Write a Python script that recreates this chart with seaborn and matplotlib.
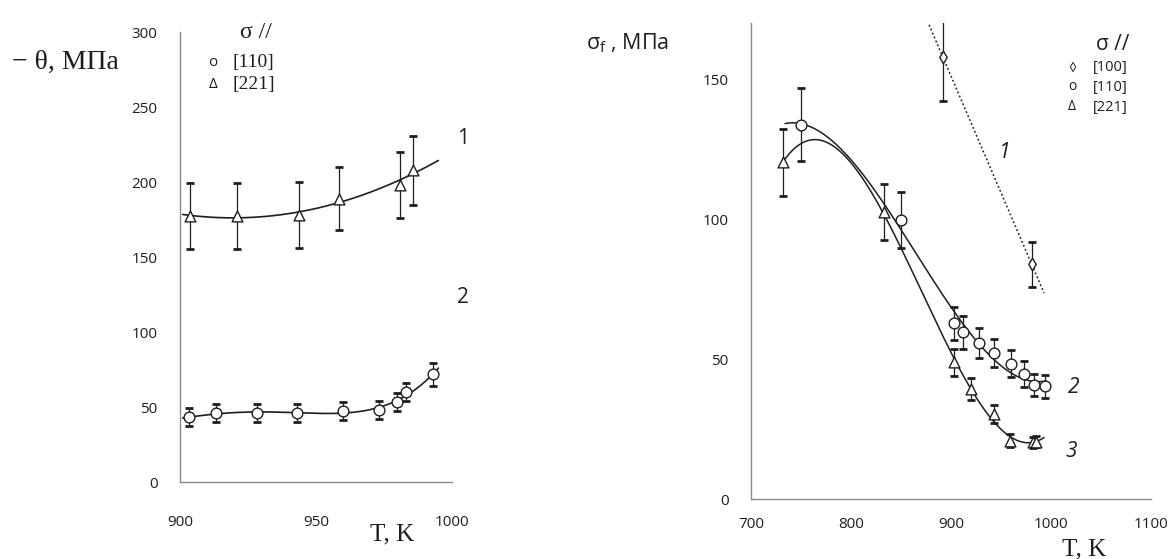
import numpy as np
import pandas as pd
import matplotlib
matplotlib.use("Agg")
import matplotlib.pyplot as plt
from matplotlib.ticker import MultipleLocator
import seaborn as sns

# ---- left panel: -theta vs T ----
t_110_left = [903.4, 913.2, 928.2, 943.1, 959.9, 973.0, 979.9, 983.2, 993.1]
theta_110 = [43.1, 45.8, 46.2, 46.2, 47.1, 48.0, 53.3, 60.0, 71.8]
theta_110_err = [6, 6, 6, 6, 6, 6, 6, 6, 7.5]

t_221_left = [903.8, 920.8, 943.7, 958.6, 980.8, 985.8]
theta_221 = [177.3, 177.3, 178.0, 188.7, 198.0, 208.0]
theta_221_err = [22, 22, 22, 21, 22, 23]

# ---- right panel: sigma_f vs T ----
t_100 = [892.0, 980.6]
sf_100 = [157.7, 83.9]
sf_100_err = [15.5, 8]

t_110_right = [750.0, 849.5, 902.6, 912.2, 928.0, 943.0, 960.4, 972.5, 983.0, 994.3]
sf_110 = [133.7, 99.6, 62.7, 59.5, 55.7, 52.1, 48.4, 44.6, 40.7, 40.2]
sf_110_err = [13, 10, 6, 6, 5.5, 5, 4.8, 4.6, 4, 4]

t_221_right = [731.7, 832.5, 902.6, 920.0, 943.0, 958.7, 981.6, 985.0]
sf_221 = [120.2, 102.4, 48.8, 39.3, 30.4, 20.8, 20.2, 20.5]
sf_221_err = [12, 10, 4.7, 3.9, 3.1, 2.3, 2, 2]

INK = "#1e1e1e"
AXIS = "#8a8a8a"

sns.set_theme(style="white")
plt.rcParams["font.family"] = ["Open Sans", "DejaVu Sans"]
plt.rcParams["mathtext.fontset"] = "custom"
plt.rcParams["mathtext.rm"] = "Open Sans"

fig = plt.figure(figsize=(11.7, 5.59), dpi=100)
fig.patch.set_facecolor("white")


def fit_curve(x, y, deg, lo, hi, n=200):
    x = np.asarray(x, float)
    y = np.asarray(y, float)
    xm = x.mean()
    coef = np.polyfit(x - xm, y, deg)
    xs = np.linspace(lo, hi, n)
    return pd.DataFrame({"T": xs, "v": np.polyval(coef, xs - xm)})


def draw_points(ax, x, y, err, marker, size):
    ax.errorbar(x, y, yerr=err, fmt="none", ecolor=INK, elinewidth=0.9,
                capsize=3.2, capthick=2.0, zorder=2)
    sns.scatterplot(x=x, y=y, ax=ax, marker=marker, s=size, color="white",
                    edgecolor=INK, linewidth=1.0, zorder=3, legend=False)


def style_axes(ax):
    sns.despine(ax=ax)
    for side in ("left", "bottom"):
        ax.spines[side].set_color(AXIS)
        ax.spines[side].set_linewidth(1.0)
    ax.tick_params(which="both", direction="in", color=AXIS, labelcolor=INK,
                   labelsize=11)
    ax.tick_params(which="major", length=4, width=0.8)
    ax.tick_params(which="minor", length=3, width=0.8)
    ax.set_facecolor("white")
    ax.set_xlabel("")
    ax.set_ylabel("")


# ---------------- left axes ----------------
axL = fig.add_axes([0.1538, 0.1377, 0.2325, 0.805])
curve = fit_curve(t_221_left, theta_221, 2, 901, 995)
sns.lineplot(data=curve, x="T", y="v", ax=axL, color=INK, lw=1.2, zorder=1)
curve = fit_curve(t_110_left, theta_110, 4, 901, 995)
sns.lineplot(data=curve, x="T", y="v", ax=axL, color=INK, lw=1.2, zorder=1)
draw_points(axL, t_221_left, theta_221, theta_221_err, "^", 60)
draw_points(axL, t_110_left, theta_110, theta_110_err, "o", 60)

axL.set_xlim(900, 1000)
axL.set_ylim(0, 300)
axL.xaxis.set_major_locator(MultipleLocator(50))
axL.xaxis.set_minor_locator(MultipleLocator(10))
axL.yaxis.set_major_locator(MultipleLocator(50))
axL.yaxis.set_minor_locator(MultipleLocator(10))
style_axes(axL)
axL.tick_params(axis="y", pad=16)
axL.tick_params(axis="x", pad=24)

axL.text(1002, 229, "1", fontsize=15, color=INK, ha="left", va="center",
         clip_on=False)
axL.text(1002, 123, "2", fontsize=15, color=INK, ha="left", va="center",
         clip_on=False)

serif = ["Liberation Serif", "DejaVu Serif"]
fig.text(12 / 1170, 1 - 62 / 559, "− θ, МПа", family=serif, fontsize=20,
         color=INK, ha="left", va="center")
fig.text(392 / 1170, 1 - 534 / 559, "T, K", family=serif, fontsize=18,
         color=INK, ha="center", va="center")
fig.text(256 / 1170, 1 - 32 / 559, "σ //", family=serif, fontsize=17,
         color=INK, ha="center", va="center")
for ypix, mk, lab in [(63, "o", "[110]"), (85, "Δ", "[221]")]:
    fig.text(213 / 1170, 1 - ypix / 559, mk, fontsize=11, color=INK,
             ha="center", va="center")
    fig.text(233 / 1170, 1 - ypix / 559, lab, family=serif, fontsize=14,
             color=INK, ha="left", va="center")

# ---------------- right axes ----------------
axR = fig.add_axes([0.6419, 0.1073, 0.3419, 0.8515])
curve = fit_curve(t_100, sf_100, 1, 878, 993)
sns.lineplot(data=curve, x="T", y="v", ax=axR, color=INK, lw=1.1,
             linestyle=(0, (1.2, 1.6)), zorder=1)
curve = fit_curve(t_110_right, sf_110, 3, 734, 995)
sns.lineplot(data=curve, x="T", y="v", ax=axR, color=INK, lw=1.1, zorder=1)
curve = fit_curve(t_221_right, sf_221, 3, 731, 993)
sns.lineplot(data=curve, x="T", y="v", ax=axR, color=INK, lw=1.1, zorder=1)
draw_points(axR, t_100, sf_100, sf_100_err, "d", 40)
draw_points(axR, t_110_right, sf_110, sf_110_err, "o", 60)
draw_points(axR, t_221_right, sf_221, sf_221_err, "^", 60)

axR.set_xlim(700, 1100)
axR.set_ylim(0, 170)
axR.xaxis.set_major_locator(MultipleLocator(100))
axR.xaxis.set_minor_locator(MultipleLocator(10))
axR.yaxis.set_major_locator(MultipleLocator(50))
axR.yaxis.set_minor_locator(MultipleLocator(10))
style_axes(axR)
axR.tick_params(axis="y", pad=16)
axR.tick_params(axis="x", pad=13)

for tx, vy, lab in [(948, 123.6, "1"), (1016.7, 40, "2"), (1014.6, 16.8, "3")]:
    axR.text(tx, vy, lab, fontsize=15, style="italic", color=INK,
             ha="left", va="center")

fig.text(586 / 1170, 1 - 43 / 559, r"σ$_\mathregular{f}$ , МПа", fontsize=15.5,
         color=INK, ha="left", va="center")
fig.text(1084 / 1170, 1 - 549 / 559, "T, K", family=serif, fontsize=18,
         color=INK, ha="center", va="center")
fig.text(1113 / 1170, 1 - 45 / 559, "σ //", fontsize=15, color=INK,
         ha="center", va="center")
for ypix, mk, lab in [(68, "◊", "[100]"), (87, "o", "[110]"), (107, "Δ", "[221]")]:
    fig.text(1072 / 1170, 1 - ypix / 559, mk, fontsize=10, color=INK,
             ha="center", va="center")
    fig.text(1093 / 1170, 1 - ypix / 559, lab, fontsize=10.5, color=INK,
             ha="left", va="center")

fig.savefig("out.png", dpi=100, facecolor="white")
